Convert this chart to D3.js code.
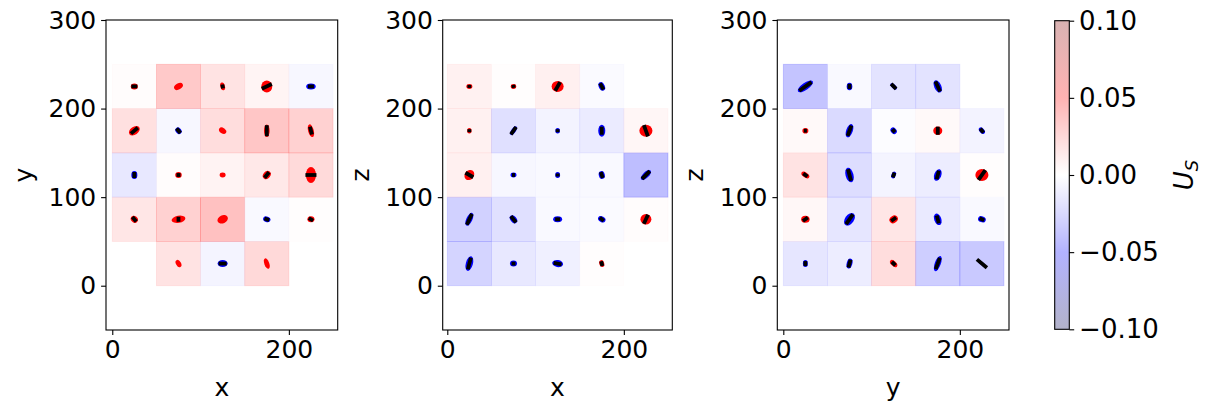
<!DOCTYPE html>
<html>
<head>
<meta charset="utf-8">
<script src="https://cdn.jsdelivr.net/npm/d3@7"></script>
<style>
  body { margin: 0; background: #fff; }
  svg text { font-family: "DejaVu Sans", sans-serif; fill: #000; }
</style>
</head>
<body>
<svg id="chart" width="1209" height="411"></svg>
<script>
const cellCenters = [25, 75, 125, 175, 225];
const cellSize = 50;
const xTicks = [0, 200];
const yTicks = [0, 100, 200, 300];
const colorTicks = [-0.1, -0.05, 0, 0.05, 0.1];

// U_S per cell; rows run from y/z = 25 (bottom) to 225 (top), columns left to right
const xyValues = [
  [null, 0.018, -0.007, 0.025, null],
  [0.016, 0.03, 0.04, -0.004, 0.001],
  [-0.015, 0.002, 0.008, 0.015, 0.024],
  [0.02, -0.005, 0.022, 0.037, 0.03],
  [0.002, 0.035, 0.018, 0.007, -0.005]
];
const xzValues = [
  [-0.028, -0.015, -0.01, 0.001, null],
  [-0.03, -0.02, -0.004, -0.003, 0.002],
  [0.01, -0.005, -0.004, -0.004, -0.042],
  [0.009, -0.02, -0.008, -0.013, 0.006],
  [0.009, 0.001, 0.01, -0.003, null]
];
const yzValues = [
  [-0.016, -0.012, 0.022, -0.032, -0.035],
  [0.005, -0.016, 0.016, -0.014, -0.004],
  [0.018, -0.022, -0.007, -0.012, 0.001],
  [0.004, -0.024, -0.002, 0.004, -0.008],
  [-0.038, -0.004, -0.018, -0.018, null]
];

// glyph per cell: [sign, semi-major, semi-minor, angle(deg), bar length, bar angle(deg)]
const xyGlyphs = [
  [null, [1, 4.5, 2.8, -60, 0, 0], [-1, 5.7, 4, 0, 9.1, 0], [1, 6.2, 2.8, -70, 0, 0], null],
  [[1, 4.3, 3.6, -40, 6.8, -50], [1, 7.9, 4, 10, 5.7, 90], [1, 6.2, 4.5, 25, 0, 0], [-1, 4.3, 3.2, -20, 5.7, -20], [1, 4, 3.4, 0, 5.7, -30]],
  [[-1, 4.5, 3.4, 90, 6.8, 90], [1, 3.7, 3.4, 0, 4.5, 0], [1, 3.4, 2.8, 0, 0, 0], [1, 5.1, 4, 50, 7.9, 50], [1, 9.1, 5.7, 90, 12.5, 0]],
  [[1, 6.8, 4.5, 35, 10.2, 40], [-1, 4, 3.2, -50, 6.8, -50], [1, 4.5, 3.1, -35, 0, 0], [1, 7.1, 3.2, 90, 12.5, 90], [1, 7.4, 3.2, -75, 9.1, -75]],
  [[1, 4, 3.4, 0, 6.8, 0], [1, 5.4, 3.4, 30, 0, 0], [1, 4.5, 2.6, -75, 4.5, -80], [1, 6.8, 6.2, 90, 12.5, 25], [-1, 5.4, 3.4, 0, 6.8, 0]]
];
const xzGlyphs = [
  [[-1, 8.5, 4, 75, 13.6, 75], [-1, 4, 3.4, 0, 4.5, 0], [-1, 6.2, 4, -10, 9.1, -10], [1, 4, 2.8, -75, 5.7, -75], null],
  [[-1, 7.9, 3.4, 65, 13.6, 65], [-1, 5.1, 3.4, -50, 9.1, -50], [-1, 5.1, 3.4, 0, 5.7, 0], [-1, 4.5, 3.2, -30, 5.7, -40], [1, 6.2, 5.9, 0, 11.3, 65]],
  [[1, 6.2, 5.1, 50, 10.2, -30], [-1, 3.4, 2.8, 0, 3.4, 0], [-1, 3.4, 2.8, 90, 3.4, 90], [-1, 4.5, 3.4, -75, 6.8, -70], [-1, 7.4, 3.4, 45, 12.5, 45]],
  [[1, 3.1, 2.5, 90, 3.4, 90], [-1, 5.7, 2.6, 55, 10.2, 55], [-1, 3.1, 2.6, 90, 3.4, 90], [-1, 6.8, 4, 90, 9.1, 90], [1, 7.4, 6.8, 0, 13.6, -70]],
  [[1, 3.4, 2.8, 0, 3.4, 90], [1, 3.1, 2.8, 0, 3.4, -80], [1, 6.8, 6.2, 0, 11.3, 60], [-1, 5.1, 3.4, -65, 7.9, -60], null]
];
const yzGlyphs = [
  [[-1, 4, 2.8, 90, 5.7, 90], [-1, 5.7, 3.2, 75, 9.1, 75], [1, 5.1, 2.8, -45, 5.7, -45], [-1, 9.1, 3.4, 70, 13.6, 70], [-1, 6.8, 1.7, -40, 14.7, -40]],
  [[1, 4.8, 4, 0, 6.8, 35], [-1, 7.9, 5.1, 55, 13.6, 55], [1, 5.1, 4, 35, 6.8, 35], [-1, 6.8, 4, -70, 9.1, -75], [-1, 4.5, 3.4, -20, 5.7, -25]],
  [[1, 5.1, 2.8, -35, 5.7, -35], [-1, 8.5, 4.5, -75, 13.6, -75], [-1, 4, 2.5, 70, 5.7, 70], [-1, 6.8, 4, 70, 10.2, 75], [1, 7.4, 6.8, 0, 13.6, 55]],
  [[1, 3.4, 3.2, 0, 3.4, 0], [-1, 7.9, 3.7, 70, 12.5, 70], [-1, 4, 3.2, -50, 4.5, -50], [1, 5.1, 4.8, 0, 9.1, 90], [-1, 4.2, 2.8, -50, 5.7, -50]],
  [[-1, 10.2, 4, 35, 17, 35], [-1, 4.3, 3.2, 90, 5.7, 90], [-1, 4.5, 2.3, -45, 7.9, -45], [-1, 7.4, 4, -65, 12.5, -65], null]
];

const panels = [
  { values: xyValues, glyphs: xyGlyphs, xLabel: "x", yLabel: "y", left: 106, right: 337.7, xDomain: [-7.1, 255.3] },
  { values: xzValues, glyphs: xzGlyphs, xLabel: "x", yLabel: "z", left: 442.7, right: 672.3, xDomain: [-5.2, 254.9] },
  { values: yzValues, glyphs: yzGlyphs, xLabel: "y", yLabel: "z", left: 777.3, right: 1009, xDomain: [-6.8, 255.7] }
];

const plotTop = 20;
const plotBottom = 330;
const tickFont = 25;
const labelFont = 25;

const seismic = d3.scaleLinear()
  .domain([-0.1, -0.05, 0, 0.05, 0.1])
  .range(["#00004d", "#0000ff", "#ffffff", "#ff0000", "#800000"])
  .clamp(true);

const svg = d3.select("#chart");

function drawPanel(p) {
  const x = d3.scaleLinear().domain(p.xDomain).range([p.left, p.right]);
  const y = d3.scaleLinear().domain([-50, 300]).range([plotBottom, plotTop]);
  const k = x(1) - x(0);
  const g = svg.append("g");

  const cells = [];
  p.values.forEach((row, i) => row.forEach((v, j) => {
    if (v !== null) cells.push({ cx: cellCenters[j], cy: cellCenters[i], v, glyph: p.glyphs[i][j] });
  }));

  g.selectAll("rect.cell")
    .data(cells)
    .join("rect")
    .attr("class", "cell")
    .attr("x", (d) => x(d.cx - cellSize / 2))
    .attr("y", (d) => y(d.cy + cellSize / 2))
    .attr("width", (d) => x(d.cx + cellSize / 2) - x(d.cx - cellSize / 2))
    .attr("height", (d) => y(d.cy - cellSize / 2) - y(d.cy + cellSize / 2))
    .attr("fill", (d) => seismic(d.v))
    .attr("fill-opacity", 0.3)
    .attr("stroke", (d) => seismic(d.v))
    .attr("stroke-opacity", 0.25)
    .attr("stroke-width", 0.8);

  const glyphs = g.selectAll("g.glyph")
    .data(cells.filter((d) => d.glyph))
    .join("g")
    .attr("class", "glyph")
    .attr("transform", (d) => `translate(${x(d.cx)},${y(d.cy)})`);

  glyphs.append("ellipse")
    .attr("rx", (d) => d.glyph[1] * k)
    .attr("ry", (d) => d.glyph[2] * k)
    .attr("transform", (d) => `rotate(${-d.glyph[3]})`)
    .attr("fill", (d) => (d.glyph[0] > 0 ? "#ff0000" : "#0000ff"));

  glyphs.filter((d) => d.glyph[4] > 0)
    .append("line")
    .attr("x1", (d) => -d.glyph[4] * k / 2)
    .attr("x2", (d) => d.glyph[4] * k / 2)
    .attr("y1", 0)
    .attr("y2", 0)
    .attr("transform", (d) => `rotate(${-d.glyph[5]})`)
    .attr("stroke", "#000")
    .attr("stroke-width", 3.8);

  g.append("rect")
    .attr("x", p.left)
    .attr("y", plotTop)
    .attr("width", p.right - p.left)
    .attr("height", plotBottom - plotTop)
    .attr("fill", "none")
    .attr("stroke", "#000")
    .attr("stroke-width", 1.1);

  const xAxis = g.append("g")
    .attr("transform", `translate(0,${plotBottom})`)
    .call(d3.axisBottom(x).tickValues(xTicks).tickSize(4.9).tickPadding(4.9));
  const yAxis = g.append("g")
    .attr("transform", `translate(${p.left},0)`)
    .call(d3.axisLeft(y).tickValues(yTicks).tickSize(4.9).tickPadding(4.9));

  [xAxis, yAxis].forEach((a) => {
    a.select(".domain").remove();
    a.selectAll("line").attr("stroke-width", 1.1);
    a.selectAll("text").attr("font-size", tickFont).attr("font-family", "DejaVu Sans");
  });

  g.append("text")
    .attr("x", (p.left + p.right) / 2)
    .attr("y", 396)
    .attr("text-anchor", "middle")
    .attr("font-size", labelFont)
    .text(p.xLabel);

  g.append("text")
    .attr("transform", `translate(${p.left - 74},${(plotTop + plotBottom) / 2}) rotate(-90)`)
    .attr("text-anchor", "middle")
    .attr("font-size", labelFont)
    .text(p.yLabel);
}

panels.forEach(drawPanel);

// colorbar
const cbLeft = 1054.7;
const cbWidth = 14.6;
const cbScale = d3.scaleLinear().domain([-0.1, 0.1]).range([329.3, 20.7]);

const grad = svg.append("defs").append("linearGradient")
  .attr("id", "cbGrad")
  .attr("x1", 0).attr("y1", 1).attr("x2", 0).attr("y2", 0);
grad.selectAll("stop")
  .data(seismic.domain())
  .join("stop")
  .attr("offset", (d) => (d + 0.1) / 0.2)
  .attr("stop-color", (d) => seismic(d))
  .attr("stop-opacity", 0.3);

svg.append("rect")
  .attr("x", cbLeft)
  .attr("y", cbScale(0.1))
  .attr("width", cbWidth)
  .attr("height", cbScale(-0.1) - cbScale(0.1))
  .attr("fill", "url(#cbGrad)")
  .attr("stroke", "#000")
  .attr("stroke-width", 1.1);

const cbAxis = svg.append("g")
  .attr("transform", `translate(${cbLeft + cbWidth},0)`)
  .call(d3.axisRight(cbScale).tickValues(colorTicks).tickFormat(d3.format(".2f")).tickSize(4.9).tickPadding(4.9));
cbAxis.select(".domain").remove();
cbAxis.selectAll("line").attr("stroke-width", 1.1);
cbAxis.selectAll("text").attr("font-size", 26).attr("font-family", "DejaVu Sans");

const cbLabel = svg.append("text")
  .attr("transform", `translate(1193,175) rotate(-90)`)
  .attr("text-anchor", "middle")
  .attr("font-size", 26)
  .attr("font-style", "italic");
cbLabel.append("tspan").text("U");
cbLabel.append("tspan").attr("font-size", 18).attr("dy", 5).text("S");
</script>
</body>
</html>
